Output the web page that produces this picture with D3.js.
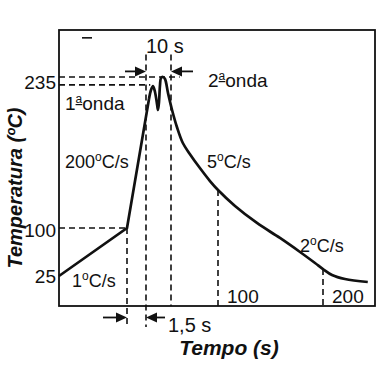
<!DOCTYPE html>
<html><head><meta charset="utf-8">
<script src="https://cdn.jsdelivr.net/npm/d3@7"></script>
<style>body{margin:0;background:#fff}svg{display:block}text{font-family:"Liberation Sans",Arial,sans-serif;fill:#111}</style>
</head><body>
<script>
// schematic soldering profile: time (s) vs temperature (°C)
const timeS = [0,75,77.7,78.5,79.3,80.1,80.9,81.3,81.7,82.1,82.5,83.3,84.1,85.3,86.8,88.2,89.9,91.9,94.8,97.7,100,116.2,137.1,159.0,178.1,192.4,200,207.1,217.3,235.3];
const tempC = [25,100,215.3,223.4,226.9,221.6,210.9,205.5,212.6,227.8,234.1,235,233.2,220.7,205.5,190.3,176.0,166.2,153.6,142.0,134.0,119.7,104.5,84.4,62.5,45.3,35.9,26.6,20.3,15.6];
const yTicks = [235,100,25];
const xTicks = [100,200];
const xBreaks = [0,75,76.5,86.5,100,200,241];
const yBreaks = [-22,25,100,235,277];
const rateLabels = ["200","5","2","1"];

const W=380,H=380;
const x = d3.scaleLinear().domain(xBreaks).range([59,127,146,171,218,323,375]);
const y = d3.scaleLinear().domain(yBreaks).range([306,276,228,77,30]);
const svg = d3.select("body").append("svg").attr("width",W).attr("height",H);

// frame
svg.append("rect").attr("x",x(0)).attr("y",y(277)).attr("width",x(241)-x(0)).attr("height",y(-22)-y(277))
  .attr("fill","none").attr("stroke","#111").attr("stroke-width",1.8);

const dash = "6,4";
function dline(x1,y1,x2,y2){svg.append("line").attr("x1",x1).attr("y1",y1).attr("x2",x2).attr("y2",y2)
  .attr("stroke","#111").attr("stroke-width",1.6).attr("stroke-dasharray",dash);}
// horizontal guides
dline(x(0),y(235),x(89),y(235));
dline(x(0),y(228),x(78.2),y(228));
dline(x(0),y(100),x(75),y(100));
// vertical guides
dline(x(75),y(100),x(75),y(-55));
dline(x(76.5),y(255),x(76.5),y(-55));
dline(x(86.5),y(255),x(86.5),y(-22));
dline(x(100),y(134.0),x(100),y(-22));
dline(x(200),y(35.9),x(200),y(-22));

// curve
const pts = timeS.map((t,i)=>[t,tempC[i]]);
svg.append("path").attr("d",d3.line().x(d=>x(d[0])).y(d=>y(d[1]))(pts.slice(0,3)))
  .attr("fill","none").attr("stroke","#111").attr("stroke-width",2.7);
svg.append("path").attr("d",d3.line().x(d=>x(d[0])).y(d=>y(d[1])).curve(d3.curveCatmullRom.alpha(0.5))(pts.slice(2)))
  .attr("fill","none").attr("stroke","#111").attr("stroke-width",2.7).attr("stroke-linejoin","round");

// arrows
function arrow(xFrom,xTo,yy){
  const dir = Math.sign(xTo-xFrom);
  svg.append("line").attr("x1",xFrom).attr("y1",yy).attr("x2",xTo-dir*8).attr("y2",yy).attr("stroke","#111").attr("stroke-width",1.8);
  svg.append("path").attr("d",`M${xTo},${yy}L${xTo-dir*11},${yy-5}L${xTo-dir*11},${yy+5}Z`).attr("fill","#111");
}
arrow(x(0)+66,x(76.5),y(240));
arrow(x(86.5)+22,x(86.5),y(240));
arrow(x(0)+44,x(75),y(-40));
arrow(x(76.5)+19,x(76.5),y(-40));

// small dash mark at top-left
svg.append("line").attr("x1",x(0)+23).attr("x2",x(0)+33).attr("y1",y(270)).attr("y2",y(270)).attr("stroke","#111").attr("stroke-width",1.6);

// y tick labels
const ytl = {235:89,100:237,25:283};
yTicks.forEach(v=>svg.append("text").attr("x",56).attr("y",ytl[v]).attr("text-anchor","end").attr("font-size",19).text(v));
// x tick labels
xTicks.forEach(v=>svg.append("text").attr("x",x(v)+9).attr("y",303).attr("font-size",19).text(v));

function sup(sel,base,s,rest){
  sel.append("tspan").text(base);
  sel.append("tspan").attr("font-size",12).attr("dy",-7).text(s);
  sel.append("tspan").attr("dy",7).text(rest);
}
let t;
t = svg.append("text").attr("x",146).attr("y",53).attr("font-size",20).text("10 s");
t = svg.append("text").attr("x",65).attr("y",110).attr("font-size",19); sup(t,"1","a","onda");
t.select("tspan:nth-child(2)").attr("text-decoration","underline");
t = svg.append("text").attr("x",208).attr("y",87).attr("font-size",19); sup(t,"2","a","onda");
t.select("tspan:nth-child(2)").attr("text-decoration","underline");
t = svg.append("text").attr("x",65).attr("y",168).attr("font-size",18); sup(t,rateLabels[0],"o","C/s");
t = svg.append("text").attr("x",207).attr("y",168).attr("font-size",18); sup(t,rateLabels[1],"o","C/s");
t = svg.append("text").attr("x",300).attr("y",252).attr("font-size",18); sup(t,rateLabels[2],"o","C/s");
t = svg.append("text").attr("x",72).attr("y",287).attr("font-size",18); sup(t,rateLabels[3],"o","C/s");
svg.append("text").attr("x",168).attr("y",332).attr("font-size",20).text("1,5 s");

// axis titles
svg.append("text").attr("x",229).attr("y",355).attr("text-anchor","middle").attr("font-size",21)
  .attr("font-weight","bold").attr("font-style","italic").text("Tempo (s)");
svg.append("text").attr("transform","translate(22,188) rotate(-90)").attr("text-anchor","middle").attr("font-size",20)
  .attr("font-weight","bold").attr("font-style","italic").text("Temperatura (ºC)");
</script>
</body></html>
